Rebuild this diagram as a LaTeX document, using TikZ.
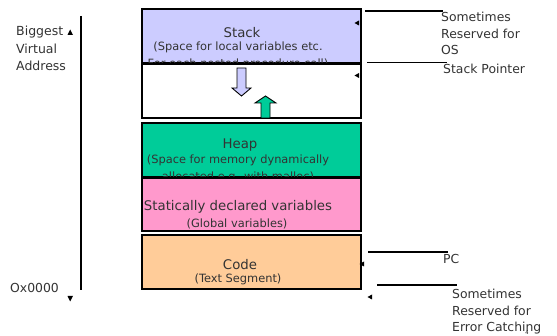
\documentclass[tikz,border=0pt]{standalone}
\usepackage{fontspec}
\setmainfont{DejaVu Sans}
\definecolor{stackc}{HTML}{CCCCFF}
\definecolor{heapc}{HTML}{00CC99}
\definecolor{statc}{HTML}{FF99CC}
\definecolor{codec}{HTML}{FFCC99}
\definecolor{txt}{HTML}{333333}
\tikzset{
  seg/.style={draw=black, line width=2pt},
  big/.style={font=\fontsize{13.3}{15}\selectfont, text=txt, inner sep=0pt},
  small/.style={font=\fontsize{11.4}{13}\selectfont, text=txt, inner sep=0pt},
  side/.style={font=\fontsize{12.4}{16.5}\selectfont, text=txt, inner sep=0pt, align=left, anchor=north west},
  pline/.style={line width=1.5pt},
  tip/.style={fill=black},
}
\begin{document}
\begin{tikzpicture}[x=1pt,y=-1pt]
\useasboundingbox (0,0) rectangle (557,336);
% Stack
\path[seg, fill=stackc] (142,9) rectangle (361,63);
\node[big] (stk) at (242,33) {Stack};
\node[small] (stk1) at (238,47.5) {(Space for local variables etc.};
\node[small] (stk2) at (238,64) {For each nested procedure call)};
% free area
\path[seg, fill=white] (142,64) rectangle (361,118);
% arrows
\draw[line width=0.9pt, fill=stackc] (237,68) -- (246,68) -- (246,88) -- (251,88) -- (241.5,96) -- (232,88) -- (237,88) -- cycle;
\draw[line width=0.9pt, fill=heapc] (261,118) -- (270,118) -- (270,103) -- (276,103) -- (265.5,96) -- (255,103) -- (261,103) -- cycle;
% Heap
\path[seg, fill=heapc] (142,123) rectangle (361,177);
\node[big] (hp) at (240,145) {Heap};
\node[small] (hp1) at (238,160) {(Space for memory dynamically};
\node[small] (hp2) at (238,177.5) {allocated e.g. with malloc)};
% Static
\path[seg, fill=statc] (142,178) rectangle (361,231);
\node[big] (st) at (238,207) {Statically declared variables};
\node[small] (st1) at (237,224) {(Global variables)};
% Code
\path[seg, fill=codec] (142,235) rectangle (361,289);
\node[big] (cd) at (240,265) {Code};
\node[small] (cd1) at (238,279.5) {(Text Segment)};
% left axis
\coordinate (ax1) at (81,16);
\coordinate (ax2) at (81,290);
\draw[line width=1.6pt] (ax1) -- (ax2);
\fill[tip] (67.5,35) -- (73,35) -- (70.2,29.5) -- cycle;
\fill[tip] (67.5,296) -- (73,296) -- (70.2,301.5) -- cycle;
\node[side, font=\fontsize{12.5}{17.5}\selectfont] (big) at (16,26) {Biggest\\Virtual\\Address};
\node[side] (zero) at (10,283) {Ox0000};
% right labels
\coordinate (a1) at (365,11); \coordinate (b1) at (443,11);
\draw[pline] (a1) -- (b1);
\fill[tip] (359,20.5) -- (359,25.5) -- (354.5,23) -- cycle;
\node[side] (os) at (441,12) {Sometimes\\Reserved for\\OS};
\coordinate (a2) at (367,62.5); \coordinate (b2) at (447,62.5);
\draw[pline] (a2) -- (b2);
\fill[tip] (359,73) -- (359,78) -- (354.5,75.5) -- cycle;
\node[side] (sp) at (443,64) {Stack Pointer};
\coordinate (a3) at (368,252); \coordinate (b3) at (448,252);
\draw[pline] (a3) -- (b3);
\fill[tip] (364,261.5) -- (364,266.5) -- (359.5,264) -- cycle;
\node[side] (pc) at (443,254) {PC};
\coordinate (a4) at (377,285); \coordinate (b4) at (457,285);
\draw[pline] (a4) -- (b4);
\fill[tip] (372,294.5) -- (372,299.5) -- (367.5,297) -- cycle;
\node[side] (err) at (452,289) {Sometimes\\Reserved for\\Error Catching};
\node[font=\fontsize{5}{5}\selectfont, inner sep=0pt] (pg) at (527,333) {4};
\end{tikzpicture}
\end{document}
